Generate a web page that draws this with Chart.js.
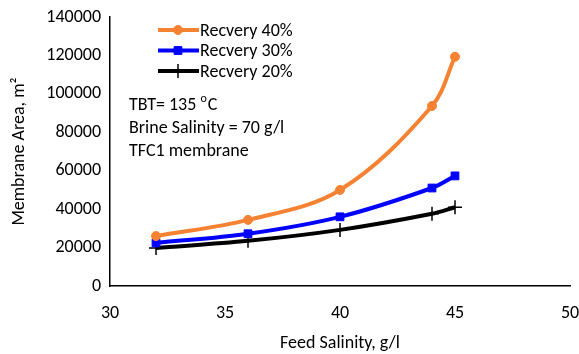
<!DOCTYPE html>
<html>
<head>
<meta charset="utf-8">
<script src="https://cdn.jsdelivr.net/npm/chart.js@4"></script>
<style>
  html, body { margin: 0; padding: 0; background: #fff; }
  #wrap { width: 579px; height: 354px; }
</style>
</head>
<body>
<div id="wrap"><canvas id="chart"></canvas></div>
<script>
var feedSalinity = [32, 36, 40, 44, 45];
var rec40 = [26000, 34400, 50000, 93700, 119300];
var rec30 = [22400, 27200, 36000, 51000, 57300];
var rec20 = [19800, 23500, 29200, 37600, 41000];
var seriesNames = ['Recvery 40%', 'Recvery 30%', 'Recvery 20%'];
var notes = ['TBT= 135 ', 'Brine Salinity = 70 g/l', 'TFC1 membrane'];

var FONT = 'Carlito, Lato, "Open Sans", sans-serif';
var FS = 18;

function pts(arr) {
    return feedSalinity.map(function (x, i) { return { x: x, y: arr[i] }; });
}

// legend and notes drawn inside the plot
var overlay = {
    id: 'overlay',
    afterDraw: function (chart) {
        var c = chart.ctx;
        c.save();
        c.font = FS + 'px ' + FONT;
        c.textBaseline = 'middle';
        chart.data.datasets.forEach(function (ds, i) {
            var y = 30 + i * 20.5;
            c.strokeStyle = ds.borderColor;
            c.fillStyle = ds.borderColor;
            c.lineWidth = 4;
            c.beginPath();
            c.moveTo(158, y);
            c.lineTo(199, y);
            c.stroke();
            c.lineWidth = ds.pointBorderWidth;
            Chart.helpers.drawPoint(c, {
                pointStyle: ds.pointStyle,
                radius: ds.pointRadius,
                borderWidth: ds.pointBorderWidth
            }, 178, y);
            c.fillStyle = '#000';
            c.fillText(ds.label, 200, y + 1);
        });
        c.fillStyle = '#000';
        c.fillText(notes[0], 129, 105);
        var w = c.measureText(notes[0]).width;
        c.font = '12px ' + FONT;
        c.fillText('o', 129 + w, 99);
        var w2 = c.measureText('o').width;
        c.font = FS + 'px ' + FONT;
        c.fillText('C', 129 + w + w2 + 1, 105);
        c.fillText(notes[1], 129, 128);
        c.fillText(notes[2], 129, 151);
        c.restore();
    }
};

var ctx = document.getElementById('chart').getContext('2d');
var chart = new Chart(ctx, {
    type: 'line',
    data: {
        datasets: [{
            label: seriesNames[0],
            data: pts(rec40),
            borderColor: '#F58233',
            backgroundColor: '#F58233',
            borderWidth: 4,
            pointStyle: 'circle',
            pointRadius: 4.5,
            pointBorderWidth: 1,
            pointBackgroundColor: '#F58233',
            pointBorderColor: '#F58233',
            tension: 0.35
        }, {
            label: seriesNames[1],
            data: pts(rec30),
            borderColor: '#0000FF',
            backgroundColor: '#0000FF',
            borderWidth: 4,
            pointStyle: 'rect',
            pointRadius: 5.5,
            pointBorderWidth: 1,
            pointBackgroundColor: '#0000FF',
            pointBorderColor: '#0000FF',
            tension: 0.35
        }, {
            label: seriesNames[2],
            data: pts(rec20),
            borderColor: '#000000',
            backgroundColor: '#000000',
            borderWidth: 4,
            pointStyle: 'cross',
            pointRadius: 7,
            pointBorderWidth: 1.5,
            pointBackgroundColor: '#000000',
            pointBorderColor: '#000000',
            tension: 0.35
        }]
    },
    options: {
        responsive: true,
        maintainAspectRatio: false,
        animation: false,
        layout: { padding: { top: 17, right: 9, left: 0, bottom: 0 } },
        plugins: {
            legend: { display: false },
            tooltip: { enabled: false }
        },
        scales: {
            x: {
                type: 'linear',
                min: 30, max: 50,
                ticks: { stepSize: 5, color: '#000', font: { family: FONT, size: FS }, padding: 12,
                    maxRotation: 0, minRotation: 0,
                    callback: function (v) { return String(v); } },
                grid: { display: false, drawTicks: true, tickLength: 5, tickColor: '#000' },
                border: { color: '#000', width: 1.5 },
                title: { display: true, text: 'Feed Salinity, g/l', color: '#000', font: { family: FONT, size: FS }, padding: { top: 0, bottom: 0 } },
                afterFit: function (s) { s.height = 68; s.paddingRight = 0; s.paddingLeft = 0; }
            },
            y: {
                min: 0, max: 140000,
                ticks: { stepSize: 20000, color: '#000', font: { family: FONT, size: FS }, padding: 4,
                    callback: function (v) { return String(v); } },
                grid: { display: false, drawTicks: true, tickLength: 5, tickColor: '#000' },
                border: { color: '#000', width: 1.5 },
                title: { display: true, text: 'Membrane Area, m²', color: '#000', font: { family: FONT, size: FS }, padding: { top: 9, bottom: 0 } },
                afterFit: function (s) { s.width = 110; s.paddingTop = 0; s.paddingBottom = 0; }
            }
        }
    },
    plugins: [overlay]
});
</script>
</body>
</html>
